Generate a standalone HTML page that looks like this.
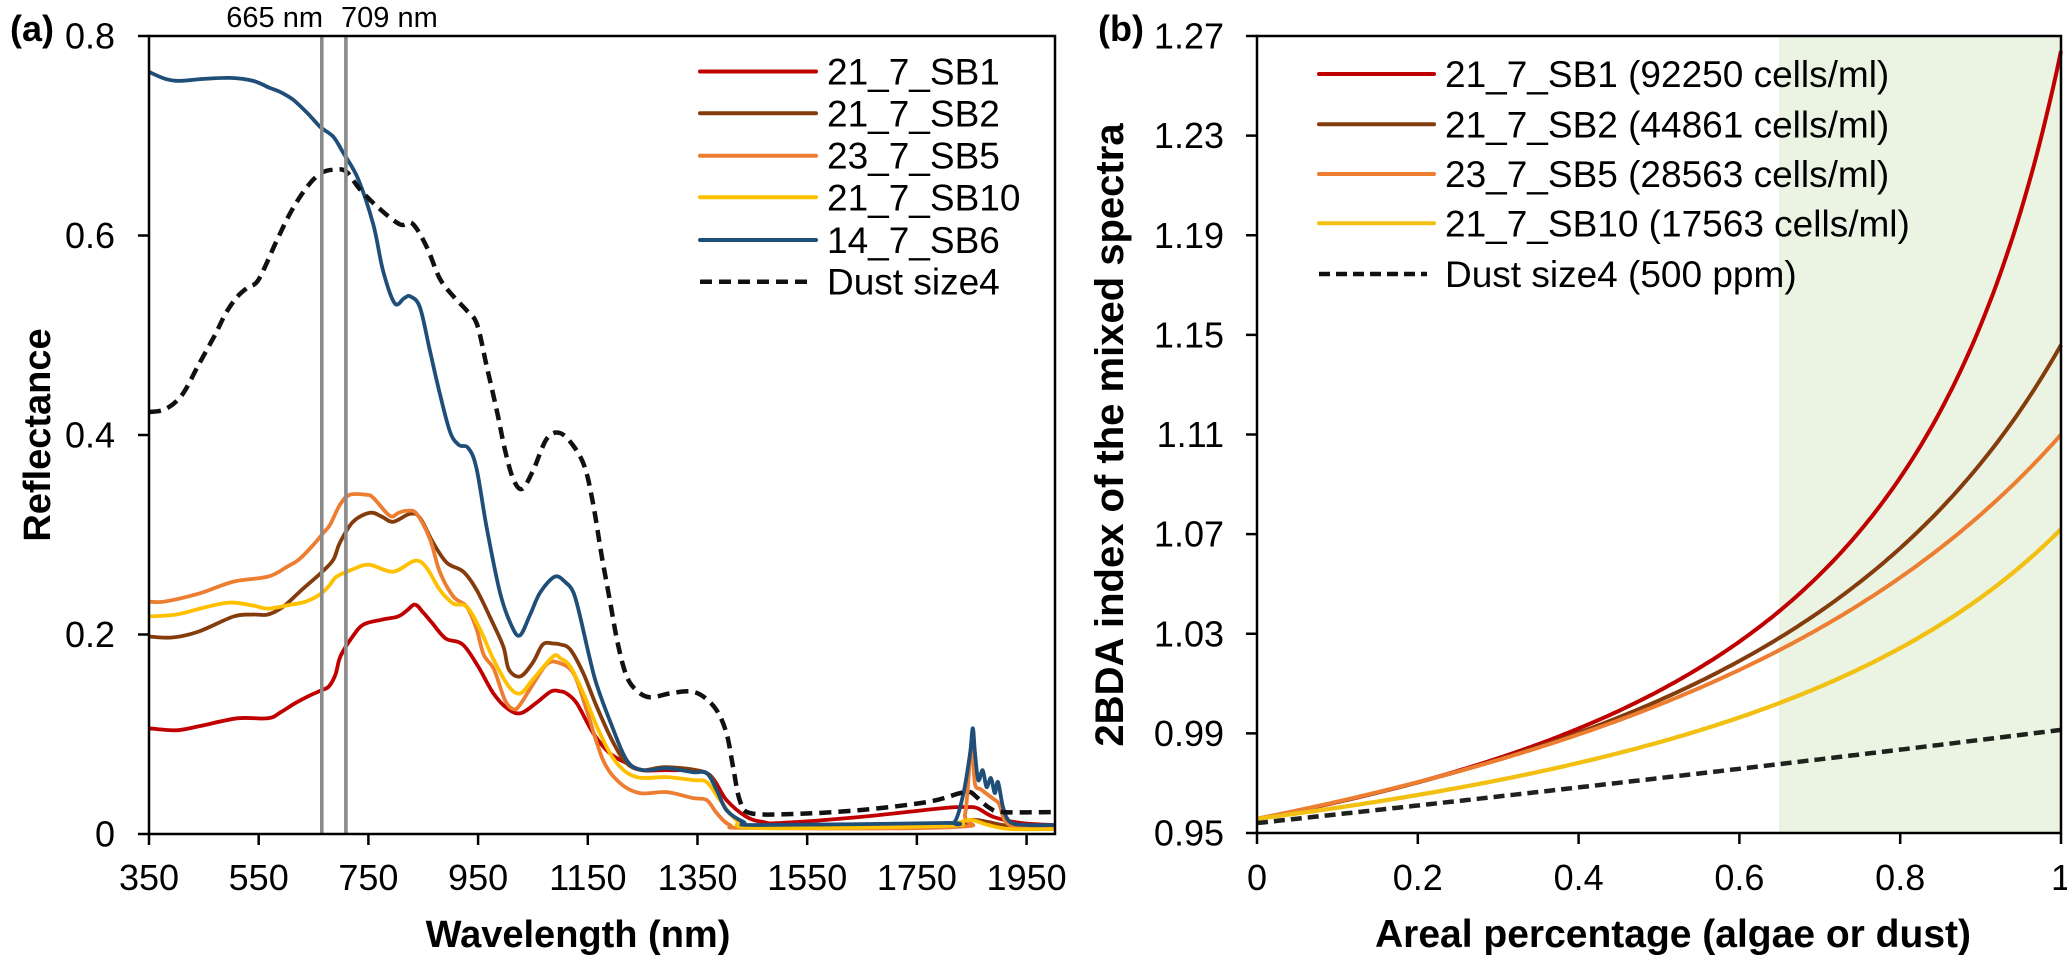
<!DOCTYPE html>
<html><head><meta charset="utf-8">
<style>
html,body{margin:0;padding:0;background:#fff;}
svg{display:block;font-family:"Liberation Sans",Arial,sans-serif;}
</style></head>
<body>
<svg id="s" width="2067" height="966" viewBox="0 0 2067 966" xmlns="http://www.w3.org/2000/svg">
<rect x="0" y="0" width="2067" height="966" fill="#fff"/>
<rect x="1779" y="36" width="282" height="797" fill="#ebf4e3"/>
<g id="curvesL"></g>
<g id="curvesR"></g>
<line x1="321.8" y1="36" x2="321.8" y2="834" stroke="#8a8a8a" stroke-width="3.6"/>
<line x1="345.9" y1="36" x2="345.9" y2="834" stroke="#8a8a8a" stroke-width="3.6"/>
<g id="axes" stroke="#000" stroke-width="2.5" fill="none">
<rect x="149" y="36" width="906" height="798"/>
<rect x="1257" y="36" width="804" height="797"/>
</g>
<g id="ticks" stroke="#000" stroke-width="2.5"></g>
<g id="labels" font-size="36" fill="#000"></g>
<text x="323" y="27" font-size="29" text-anchor="end">665 nm</text>
<text x="341" y="27" font-size="29">709 nm</text>
<text x="10" y="41" font-size="36" font-weight="bold">(a)</text>
<text x="1098" y="41" font-size="36" font-weight="bold">(b)</text>
<text x="578" y="947" font-size="38" font-weight="bold" text-anchor="middle">Wavelength (nm)</text>
<text x="1673" y="947" font-size="39" font-weight="bold" text-anchor="middle">Areal percentage (algae or dust)</text>
<text transform="translate(50,435) rotate(-90)" font-size="38" font-weight="bold" text-anchor="middle">Reflectance</text>
<text transform="translate(1123,435) rotate(-90)" font-size="40" font-weight="bold" text-anchor="middle">2BDA index of the mixed spectra</text>
<g font-size="37">
<line x1="700" y1="71.5" x2="816" y2="71.5" stroke="#c00000" stroke-width="4" stroke-linecap="round"/>
<text x="827" y="84.5">21_7_SB1</text>
<line x1="700" y1="113.3" x2="816" y2="113.3" stroke="#843c0c" stroke-width="4" stroke-linecap="round"/>
<text x="827" y="126.3">21_7_SB2</text>
<line x1="700" y1="155.7" x2="816" y2="155.7" stroke="#ed7d31" stroke-width="4" stroke-linecap="round"/>
<text x="827" y="168.7">23_7_SB5</text>
<line x1="700" y1="197.3" x2="816" y2="197.3" stroke="#ffc000" stroke-width="4" stroke-linecap="round"/>
<text x="827" y="210.3">21_7_SB10</text>
<line x1="700" y1="240" x2="816" y2="240" stroke="#1f4e79" stroke-width="4" stroke-linecap="round"/>
<text x="827" y="253">14_7_SB6</text>
<line x1="700" y1="281.7" x2="810" y2="281.7" stroke="#111" stroke-width="4.5" stroke-dasharray="12 7"/>
<text x="827" y="294.7">Dust size4</text>
</g>
<g font-size="37">
<line x1="1319" y1="74" x2="1434" y2="74" stroke="#c00000" stroke-width="4" stroke-linecap="round"/>
<text x="1445" y="87">21_7_SB1 (92250 cells/ml)</text>
<line x1="1319" y1="124.3" x2="1434" y2="124.3" stroke="#843c0c" stroke-width="4" stroke-linecap="round"/>
<text x="1445" y="137.3">21_7_SB2 (44861 cells/ml)</text>
<line x1="1319" y1="174" x2="1434" y2="174" stroke="#ed7d31" stroke-width="4" stroke-linecap="round"/>
<text x="1445" y="187">23_7_SB5 (28563 cells/ml)</text>
<line x1="1319" y1="223.3" x2="1434" y2="223.3" stroke="#f2c012" stroke-width="4" stroke-linecap="round"/>
<text x="1445" y="236.3">21_7_SB10 (17563 cells/ml)</text>
<line x1="1319" y1="274" x2="1427" y2="274" stroke="#111" stroke-width="4.5" stroke-dasharray="11 6"/>
<text x="1445" y="287">Dust size4 (500 ppm)</text>
</g>
</svg>
<script>
(function(){
var NS="http://www.w3.org/2000/svg";
function el(tag,attrs,parent,txt){var e=document.createElementNS(NS,tag);for(var k in attrs)e.setAttribute(k,attrs[k]);if(txt!==undefined)e.textContent=txt;parent.appendChild(e);return e;}
var LX=function(w){return 149+(w-350)*0.54848;}, LY=function(r){return 834-r*997.5;};
function smooth(pts){
  var d="M"+pts[0][0].toFixed(1)+" "+pts[0][1].toFixed(1);
  for(var i=0;i<pts.length-1;i++){
    var p0=pts[i-1]||pts[i],p1=pts[i],p2=pts[i+1],p3=pts[i+2]||p2;
    var c1x=p1[0]+(p2[0]-p0[0])/6,c1y=p1[1]+(p2[1]-p0[1])/6;
    var c2x=p2[0]-(p3[0]-p1[0])/6,c2y=p2[1]-(p3[1]-p1[1])/6;
    d+="C"+c1x.toFixed(1)+" "+c1y.toFixed(1)+" "+c2x.toFixed(1)+" "+c2y.toFixed(1)+" "+p2[0].toFixed(1)+" "+p2[1].toFixed(1);
  }
  return d;
}
function toPx(data){return data.map(function(p){return [LX(p[0]),LY(p[1])];});}
var red=[[350,.106],[400,.104],[441,.108],[511,.116],[567,.116],[590,.122],[616,.131],[640,.138],[664,.144],[678,.148],[690,.16],[699,.178],[720,.197],[741,.21],[776,.215],[804,.218],[820,.224],[835,.23],[850,.222],[867,.211],[891,.196],[922,.19],[950,.168],[978,.141],[1003,.126],[1027,.121],[1055,.131],[1083,.143],[1100,.143],[1111,.141],[1130,.131],[1160,.101],[1190,.081],[1221,.071],[1250,.064],[1300,.064],[1367,.061],[1403,.034],[1440,.017],[1470,.012],[1500,.011],[1646,.017],[1798,.026],[1841,.027],[1860,.026],[1890,.017],[1940,.011],[2000,.009]];
var brown=[[350,.198],[392,.197],[441,.203],[504,.218],[540,.22],[567,.22],[595,.228],[629,.245],[664,.262],[686,.275],[698,.292],[722,.313],[753,.322],[775,.318],[795,.313],[826,.321],[844,.317],[868,.292],[893,.272],[923,.263],[947,.245],[972,.217],[996,.188],[1006,.165],[1027,.158],[1050,.172],[1068,.19],[1087,.191],[1100,.19],[1118,.185],[1142,.161],[1166,.128],[1197,.091],[1221,.071],[1250,.064],[1294,.067],[1367,.061],[1385,.044],[1403,.024],[1434,.011],[1464,.008],[1800,.009],[1850,.014],[1880,.012],[1920,.008],[2000,.007]];
var orange=[[350,.233],[378,.233],[441,.241],[504,.253],[567,.258],[602,.268],[623,.275],[650,.29],[665,.30],[680,.31],[698,.330],[716,.340],[747,.340],[759,.337],[789,.319],[805,.322],[820,.324],[838,.321],[862,.296],[880,.263],[905,.238],[929,.228],[947,.206],[960,.18],[979,.165],[999,.134],[1015,.125],[1027,.13],[1050,.15],[1075,.17],[1095,.172],[1124,.161],[1148,.124],[1178,.074],[1209,.051],[1245,.041],[1294,.042],[1342,.036],[1367,.034],[1385,.021],[1409,.009],[1450,.006],[1820,.007],[1838,.02],[1849,.086],[1856,.05],[1866,.045],[1878,.04],[1890,.035],[1900,.03],[1912,.012],[1940,.006],[2000,.005]];
var yellow=[[350,.218],[400,.22],[450,.227],[497,.232],[540,.229],[567,.226],[609,.23],[636,.233],[664,.241],[680,.25],[692,.258],[720,.265],[751,.27],[795,.263],[835,.274],[856,.267],[880,.245],[905,.231],[929,.228],[953,.206],[978,.175],[1006,.148],[1027,.141],[1050,.155],[1087,.178],[1100,.176],[1118,.168],[1142,.141],[1172,.101],[1203,.071],[1239,.057],[1294,.057],[1342,.054],[1367,.052],[1391,.034],[1421,.014],[1460,.006],[1800,.008],[1829,.012],[1850,.014],[1880,.009],[1920,.005],[2000,.005]];
var blue=[[350,.764],[380,.757],[406,.755],[450,.757],[498,.758],[540,.755],[570,.748],[589,.744],[613,.736],[640,.722],[662,.709],[686,.699],[704,.683],[731,.657],[759,.611],[777,.564],[798,.532],[815,.537],[826,.539],[844,.528],[862,.485],[880,.442],[899,.403],[915,.39],[932,.387],[947,.367],[966,.306],[990,.242],[1010,.21],[1026,.199],[1045,.22],[1063,.242],[1090,.258],[1110,.252],[1124,.242],[1136,.218],[1154,.175],[1166,.15],[1190,.114],[1221,.074],[1251,.064],[1294,.066],[1342,.062],[1367,.061],[1385,.044],[1403,.024],[1434,.012],[1464,.009],[1798,.011],[1819,.012],[1835,.041],[1847,.081],[1852,.106],[1856,.081],[1862,.054],[1870,.064],[1877,.047],[1885,.056],[1892,.041],[1898,.052],[1907,.027],[1920,.012],[1950,.009],[2000,.009]];
var dust=[[350,.423],[380,.426],[410,.44],[440,.47],[470,.5],[490,.522],[510,.538],[530,.548],[550,.556],[583,.595],[610,.625],[640,.65],[665,.663],[690,.666],[710,.664],[735,.646],[770,.627],[808,.611],[830,.612],[856,.589],[880,.557],[905,.539],[929,.525],[948,.511],[966,.468],[984,.425],[999,.385],[1014,.356],[1030,.346],[1050,.364],[1075,.396],[1099,.402],[1124,.389],[1145,.367],[1160,.33],[1175,.28],[1190,.235],[1205,.19],[1221,.158],[1239,.144],[1263,.137],[1300,.141],[1336,.143],[1360,.138],[1385,.124],[1403,.101],[1415,.067],[1427,.034],[1446,.021],[1524,.020],[1646,.024],[1768,.032],[1829,.041],[1847,.042],[1859,.037],[1883,.026],[1907,.022],[2000,.022]];
var gL=document.getElementById("curvesL");
var series=[[red,"#c00000"],[brown,"#843c0c"],[orange,"#ed7d31"],[yellow,"#ffc000"],[blue,"#1f4e79"]];
series.forEach(function(s){el("path",{d:smooth(toPx(s[0])),fill:"none",stroke:s[1],"stroke-width":"3.8","stroke-linejoin":"round"},gL);});
el("path",{d:smooth(toPx(dust)),fill:"none",stroke:"#111","stroke-width":"4.5","stroke-dasharray":"12 7"},gL);
var RX=function(a){return 1257+a*804;}, RY=function(v){return 833-(v-0.95)*2490;};
function rcurve(f0,f1,v){var u=(f1/f0)*(1+v)-1;var pts=[];for(var i=0;i<=200;i++){var a=i/200;pts.push([RX(a),RY(f0*(1+u*a)/(1+v*a))]);}return "M"+pts.map(function(p){return p[0].toFixed(1)+" "+p[1].toFixed(1);}).join("L");}
var gR=document.getElementById("curvesR");
el("path",{d:rcurve(0.9557,1.264,-0.80),fill:"none",stroke:"#c00000","stroke-width":"4"},gR);
el("path",{d:rcurve(0.9557,1.146,-0.667),fill:"none",stroke:"#843c0c","stroke-width":"4"},gR);
el("path",{d:rcurve(0.9557,1.110,-0.578),fill:"none",stroke:"#ed7d31","stroke-width":"4"},gR);
el("path",{d:rcurve(0.9557,1.072,-0.641),fill:"none",stroke:"#f2c012","stroke-width":"4.3"},gR);
el("path",{d:rcurve(0.954,0.9914,-0.07),fill:"none",stroke:"#1e221c","stroke-width":"4.5","stroke-dasharray":"11 6"},gR);
var gT=document.getElementById("ticks"), gLab=document.getElementById("labels");
var yl=["0","0.2","0.4","0.6","0.8"];
for(var k=0;k<5;k++){var y=834-k*199.5;el("line",{x1:138,y1:y,x2:149,y2:y},gT);el("text",{x:115,y:(y+12.5).toFixed(1),"text-anchor":"end"},gLab,yl[k]);}
for(var k=0;k<9;k++){var w=350+200*k,x=LX(w);el("line",{x1:x,y1:834,x2:x,y2:845},gT);el("text",{x:x.toFixed(1),y:890,"text-anchor":"middle"},gLab,String(w));}
var ryl=["0.95","0.99","1.03","1.07","1.11","1.15","1.19","1.23","1.27"];
for(var k=0;k<9;k++){var y=833-k*99.625;el("line",{x1:1246,y1:y,x2:1257,y2:y},gT);el("text",{x:1224,y:(y+12.5).toFixed(1),"text-anchor":"end"},gLab,ryl[k]);}
var rxl=["0","0.2","0.4","0.6","0.8","1"];
for(var k=0;k<6;k++){var x=1257+k*160.8;el("line",{x1:x,y1:833,x2:x,y2:844},gT);el("text",{x:x.toFixed(1),y:890,"text-anchor":"middle"},gLab,rxl[k]);}
})();
</script>
</body></html>
